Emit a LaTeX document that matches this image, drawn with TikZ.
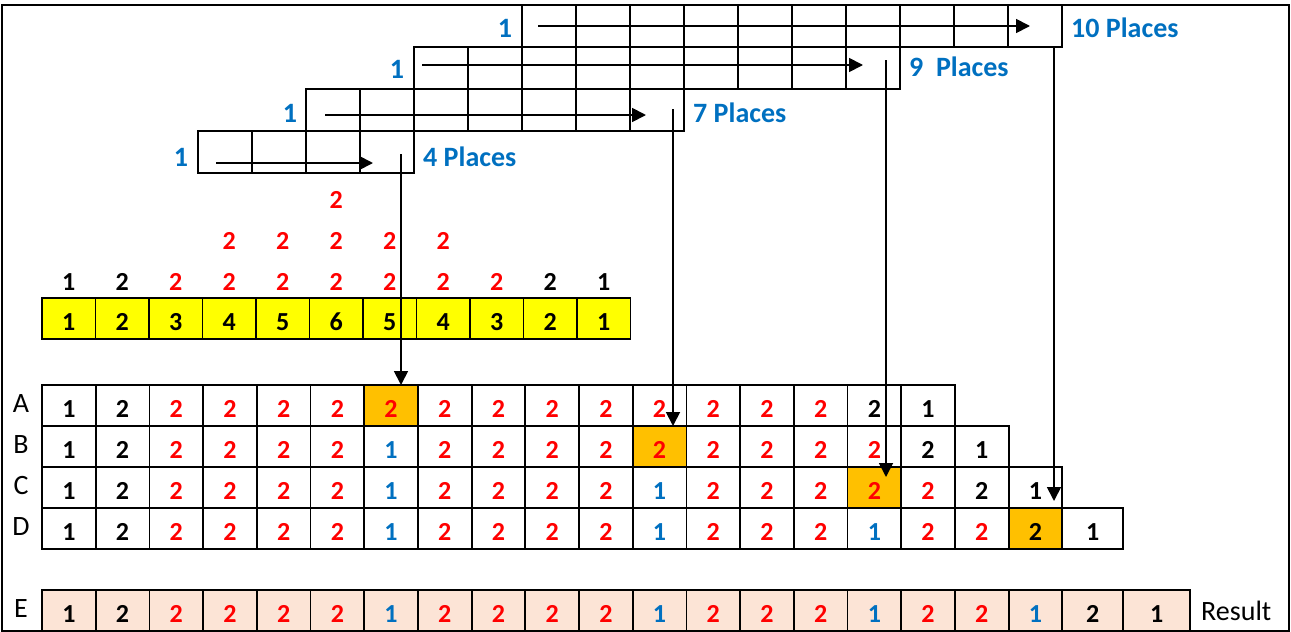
\documentclass[tikz,border=0pt]{standalone}
\usepackage{fontspec}
\setmainfont{Carlito}
\usetikzlibrary{arrows.meta,calc}
\definecolor{nr}{HTML}{FF0000}
\definecolor{nb}{HTML}{0070C0}
\colorlet{nk}{black}
\colorlet{fw}{white}
\definecolor{fo}{HTML}{FFC000}
\definecolor{fe}{HTML}{FCE4D6}
\definecolor{yellowfill}{HTML}{FFFF00}
\tikzset{
  cell/.style={draw, line width=1.8pt, anchor=north west, inner sep=0pt, outer sep=0pt,
    minimum width=53.7pt, minimum height=41pt, text height=23pt, text depth=0pt,
    font=\bfseries\fontsize{26}{30}\selectfont},
  bandcell/.style={draw, line width=1.8pt, anchor=north west, inner sep=0pt, outer sep=0pt,
    minimum width=54pt, minimum height=42pt},
  num/.style={inner sep=0pt, font=\bfseries\fontsize{26}{30}\selectfont},
  rowlabel/.style={inner sep=0pt, font=\fontsize{28}{32}\selectfont},
  places/.style={anchor=west, inner sep=0pt, text=nb, font=\bfseries\fontsize{28}{32}\selectfont},
  startone/.style={inner sep=0pt, text=nb, font=\bfseries\fontsize{28}{32}\selectfont},
  arr/.style={line width=1.8pt, -{Triangle[length=14pt,width=14pt]}},
  frame/.style={line width=1.8pt}
}
\begin{document}
\begin{tikzpicture}[x=1pt,y=-1pt]
\useasboundingbox (0,0) rectangle (1291,632);
\draw[frame] (2,5) rectangle (1289,631);
% places
\foreach \b/\c/\n/\t in {1/0/4/131,2/2/7/89,3/4/9/47,4/6/10/5}
  \foreach \j in {1,...,\n}
    \node[bandcell] (b\b-\j) at ({198+54*(\c+\j-1)},\t) {};
\node[startone] (s1) at (181,157) {1};
\node[startone] (s2) at (290,113) {1};
\node[startone] (s3) at (397,69) {1};
\node[startone] (s4) at (505,28) {1};
\node[places] (p4) at (423,157) {4 Places};
\node[places] (p7) at (693,113) {7 Places};
\node[places] (p9) at (909,67) {9\ \ Places};
\node[places] (p10) at (1071,28) {10 Places};
% counts over the yellow row
\foreach \v/\c [count=\i] in {1/nk,2/nk,2/nr,2/nr,2/nr,2/nr,2/nr,2/nr,2/nr,2/nk,1/nk}
  \node[num, text=\c] (u1-\i) at ({42+53.5*(\i-0.5)},282) {\v};
\foreach \i in {4,...,8}
  \node[num, text=nr] (u2-\i) at ({42+53.5*(\i-0.5)},241) {2};
\node[num, text=nr] (u3-6) at ({42+53.5*5.5},200) {2};
\foreach \v [count=\i] in {1,2,3,4,5,6,5,4,3,2,1}
  \node[cell, fill=yellowfill, minimum width=53.5pt] (y\i) at ({42+53.5*(\i-1)},298) {\v};
% rows A to E
\foreach \r/\y/\lst in {
  A/385/{1/nk/fw,2/nk/fw,2/nr/fw,2/nr/fw,2/nr/fw,2/nr/fw,2/nr/fo,2/nr/fw,2/nr/fw,2/nr/fw,2/nr/fw,2/nr/fw,2/nr/fw,2/nr/fw,2/nr/fw,2/nk/fw,1/nk/fw},
  B/426/{1/nk/fw,2/nk/fw,2/nr/fw,2/nr/fw,2/nr/fw,2/nr/fw,1/nb/fw,2/nr/fw,2/nr/fw,2/nr/fw,2/nr/fw,2/nr/fo,2/nr/fw,2/nr/fw,2/nr/fw,2/nr/fw,2/nk/fw,1/nk/fw},
  C/467/{1/nk/fw,2/nk/fw,2/nr/fw,2/nr/fw,2/nr/fw,2/nr/fw,1/nb/fw,2/nr/fw,2/nr/fw,2/nr/fw,2/nr/fw,1/nb/fw,2/nr/fw,2/nr/fw,2/nr/fw,2/nr/fo,2/nr/fw,2/nk/fw,1/nk/fw},
  D/508/{1/nk/fw,2/nk/fw,2/nr/fw,2/nr/fw,2/nr/fw,2/nr/fw,1/nb/fw,2/nr/fw,2/nr/fw,2/nr/fw,2/nr/fw,1/nb/fw,2/nr/fw,2/nr/fw,2/nr/fw,1/nb/fw,2/nr/fw,2/nr/fw,2/nk/fo,1/nk/fw},
  E/590/{1/nk/fe,2/nk/fe,2/nr/fe,2/nr/fe,2/nr/fe,2/nr/fe,1/nb/fe,2/nr/fe,2/nr/fe,2/nr/fe,2/nr/fe,1/nb/fe,2/nr/fe,2/nr/fe,2/nr/fe,1/nb/fe,2/nr/fe,2/nr/fe,1/nb/fe,2/nk/fe,1/nk/fe}}{
  \node[rowlabel] (lab\r) at (21,\y+19) {\r};
  \foreach \v/\c/\f [count=\i] in \lst {
    \pgfmathsetmacro\cx{42+53.7*(\i-1)+7.3*(\i>20)}
    \pgfmathsetmacro\cw{53.7+7.3*(\i>19)+6*(\i>20)}
    \node[cell, text=\c, fill=\f, minimum width=\cw pt] (\r\i) at (\cx,\y) {\v};
  }
}
\node[rowlabel, anchor=west] (res) at (1201,611) {Result};
% arrows
\coordinate (h1s) at (216,163); \coordinate (h1e) at (373,163);
\coordinate (h2s) at (325,115); \coordinate (h2e) at (646,115);
\coordinate (h3s) at (422,65);  \coordinate (h3e) at (863,65);
\coordinate (h4s) at (538,26);  \coordinate (h4e) at (1030,26);
\draw[arr] (h1s) -- (h1e);
\draw[arr] (h2s) -- (h2e);
\draw[arr] (h3s) -- (h3e);
\draw[arr] (h4s) -- (h4e);
\coordinate (v1) at (401,154);
\coordinate (v2) at (673,109);
\coordinate (v3) at (886,60);
\coordinate (v4) at (1054,47);
\draw[arr] (v1) -- (v1 |- A7.north);
\draw[arr] (v2) -- (v2 |- B12.north);
\draw[arr] (v3) -- ($(v3 |- C16.north)+(0,10)$);
\draw[arr] (v4) -- ($(v4 |- D19.north)+(0,-7)$);
\end{tikzpicture}
\end{document}
